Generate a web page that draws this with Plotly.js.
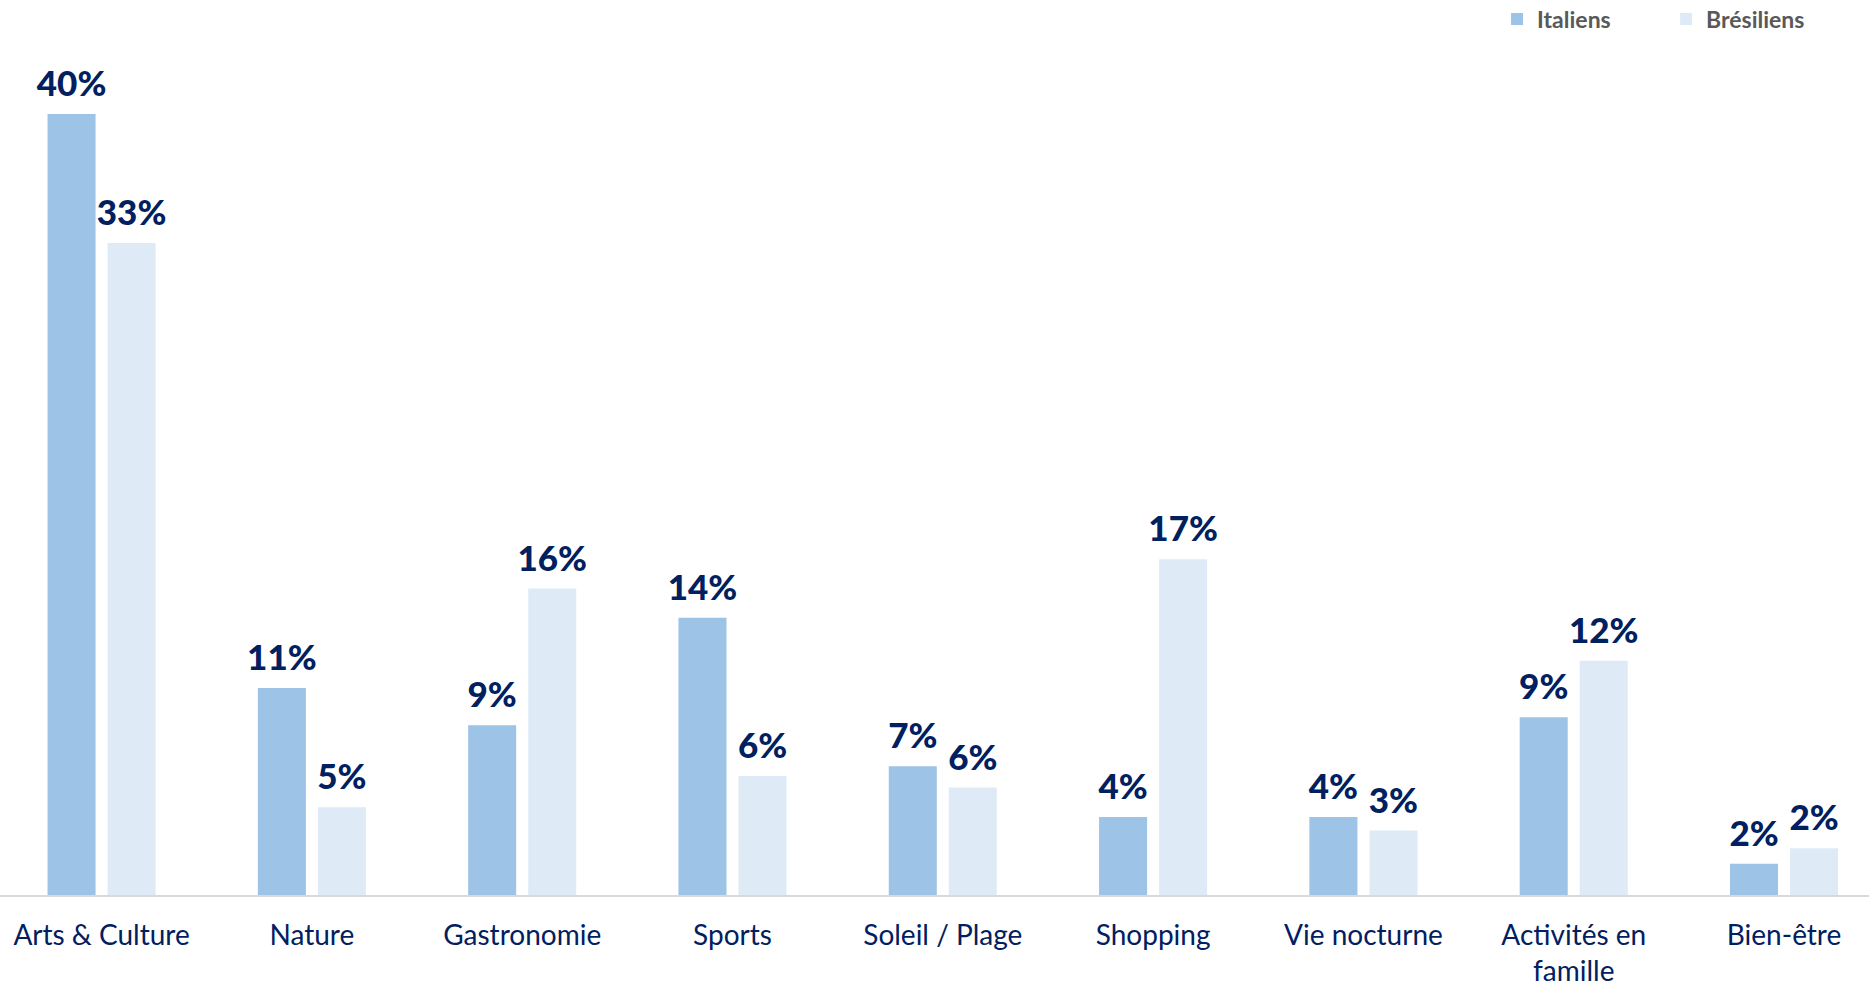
<!DOCTYPE html>
<html>
<head>
<meta charset="utf-8">
<script src="https://cdn.plot.ly/plotly-3.0.1.min.js"></script>
<style>
  html, body { margin: 0; padding: 0; background: #ffffff; }
  #chart { width: 1869px; height: 988px; }
</style>
</head>
<body>
<div id="chart"></div>
<script>
// Categories (x axis)
const categories = [
  "Arts & Culture",
  "Nature",
  "Gastronomie",
  "Sports",
  "Soleil / Plage",
  "Shopping",
  "Vie nocturne",
  "Activités en<br>famille",
  "Bien-être"
];

// Series values (%)
const italiens   = [40.0, 10.6, 8.7, 14.2, 6.6, 4.0, 4.0, 9.1, 1.6];
const bresiliens = [33.4, 4.5, 15.7, 6.1, 5.5, 17.2, 3.3, 12.0, 2.4];

// Data labels as printed on the chart
const italiensLabels   = ["40%", "11%", "9%", "14%", "7%", "4%", "4%", "9%", "2%"];
const bresiliensLabels = ["33%", "5%", "16%", "6%", "6%", "17%", "3%", "12%", "2%"];

const seriesNames = ["Italiens", "Brésiliens"];

const colItaliens = "#9DC3E6";
const colBresiliens = "#DEEBF7";
const navy = "#002060";

const labelFont = { family: "Lato, 'Open Sans', sans-serif", size: 35, color: navy, weight: 900 };

const traces = [
  {
    type: "bar",
    name: seriesNames[0],
    x: categories,
    y: italiens,
    marker: { color: colItaliens },
    hoverinfo: "skip"
  },
  {
    type: "bar",
    name: seriesNames[1],
    x: categories,
    y: bresiliens,
    marker: { color: colBresiliens },
    hoverinfo: "skip"
  },
  {
    type: "scatter",
    mode: "markers+text",
    x: categories,
    y: italiens,
    text: italiensLabels,
    textposition: "top center",
    textfont: labelFont,
    marker: { size: 13, color: "rgba(0,0,0,0)" },
    showlegend: false,
    hoverinfo: "skip",
    cliponaxis: false
  },
  {
    type: "scatter",
    mode: "markers+text",
    x: categories,
    y: bresiliens,
    text: bresiliensLabels,
    textposition: "top center",
    textfont: labelFont,
    marker: { size: 13, color: "rgba(0,0,0,0)" },
    showlegend: false,
    hoverinfo: "skip",
    cliponaxis: false
  }
];

const layout = {
  width: 1869,
  height: 988,
  margin: { l: 0, r: 0, t: 0, b: 93, pad: 0, autoexpand: false },
  paper_bgcolor: "#ffffff",
  plot_bgcolor: "#ffffff",
  barmode: "group",
  bargap: 0.429,
  bargroupgap: 0.2,
  scattermode: "group",
  scattergap: 0.429,
  hovermode: false,
  showlegend: true,
  legend: {
    orientation: "h",
    x: 0.801,
    xanchor: "left",
    y: 0.9788,
    yanchor: "middle",
    font: { family: "Lato, 'Open Sans', sans-serif", size: 23, color: "#595959", weight: 700 },
    entrywidth: 124,
    entrywidthmode: "pixels",
    bgcolor: "rgba(0,0,0,0)",
    traceorder: "normal"
  },
  xaxis: {
    type: "category",
    range: [-0.483, 8.404],
    showgrid: false,
    zeroline: false,
    showline: true,
    linecolor: "#D9D9D9",
    linewidth: 2,
    ticks: "",
    ticklabelstandoff: 14,
    tickfont: { family: "Lato, 'Open Sans', sans-serif", size: 28, color: navy },
    automargin: false,
    fixedrange: true
  },
  yaxis: {
    range: [0, 45.84],
    visible: false,
    showgrid: false,
    zeroline: false,
    fixedrange: true
  }
};

Plotly.newPlot("chart", traces, layout, { displayModeBar: false, staticPlot: true });
</script>
</body>
</html>
